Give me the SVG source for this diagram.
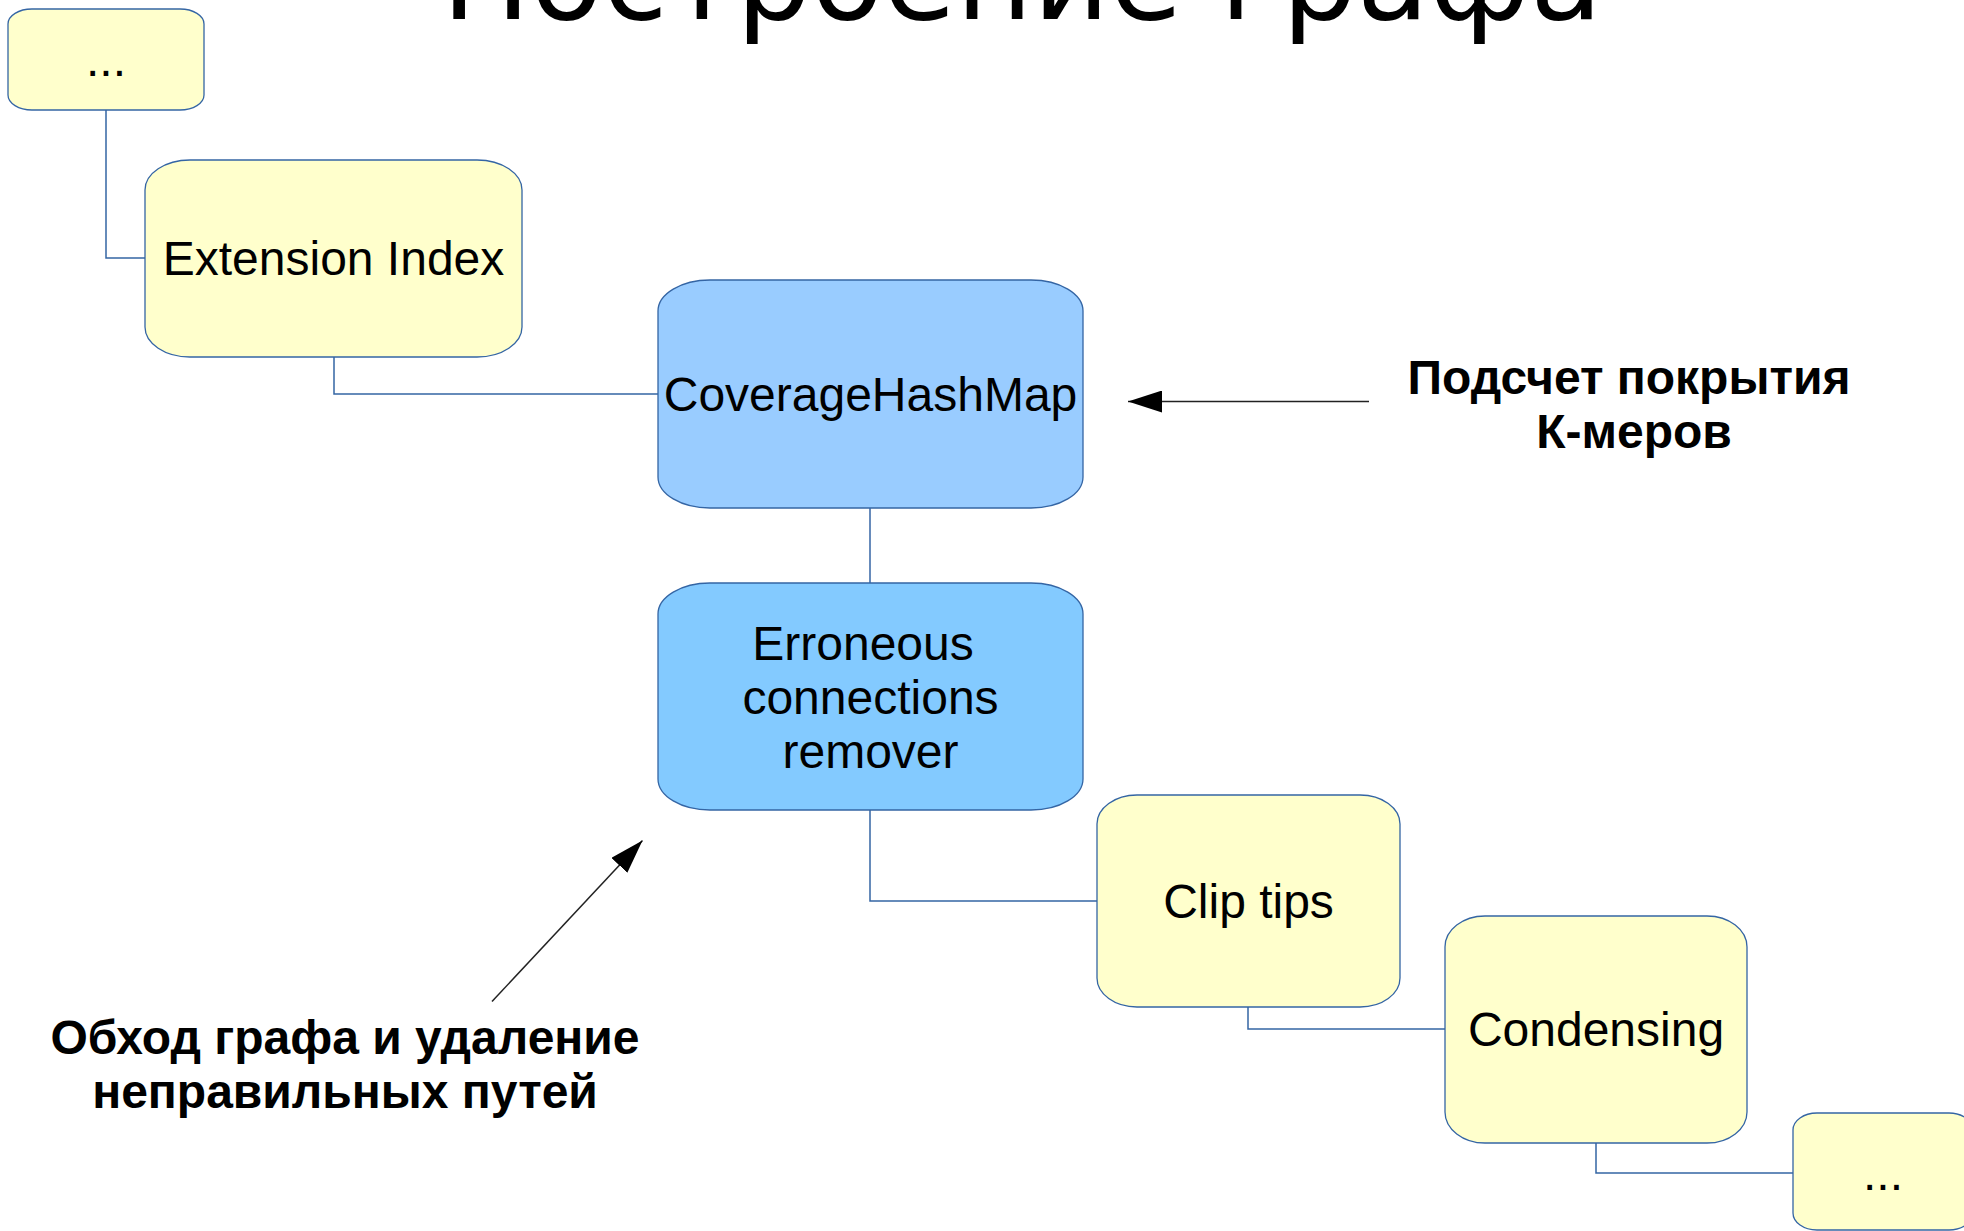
<svg xmlns="http://www.w3.org/2000/svg" width="1964" height="1231" viewBox="0 0 1964 1231">
  <defs>
    <style>
      .node-y { fill: #ffffcc; stroke: #3465a4; stroke-width: 1.3; }
      .node-b1 { fill: #99ccff; stroke: #3465a4; stroke-width: 1.3; }
      .node-b2 { fill: #83caff; stroke: #3465a4; stroke-width: 1.3; }
      .lbl { font-family: "Liberation Sans", Arial, sans-serif; font-size: 48px; fill: #000; text-anchor: middle; }
      .note { font-family: "Liberation Sans", Arial, sans-serif; font-size: 48px; font-weight: bold; fill: #000; text-anchor: middle; }
      .title { font-family: "DejaVu Sans", sans-serif; font-size: 118px; fill: #000; text-anchor: middle; }
      .conn { fill: none; stroke: #3465a4; stroke-width: 1.5; }
      .ptr { fill: none; stroke: #222; stroke-width: 1.5; }
    </style>
    <marker id="head" viewBox="0 0 34 22" refX="34" refY="11" markerWidth="34" markerHeight="22" markerUnits="userSpaceOnUse" orient="auto">
      <path d="M0,0 L34,11 L0,22 Z" fill="#000"/>
    </marker>
  </defs>

  <rect width="1964" height="1231" fill="#ffffff"/>

  <!-- slide title, partly above the top edge -->
  <text class="title" x="1022" y="19">Построение графа</text>

  <!-- pipeline connectors -->
  <g id="connectors">
    <path class="conn" d="M106,110 V258 H145"/>
    <path class="conn" d="M334,357 V394 H658"/>
    <path class="conn" d="M870,508 V583"/>
    <path class="conn" d="M870,810 V901 H1097"/>
    <path class="conn" d="M1248,1007 V1029 H1445"/>
    <path class="conn" d="M1596,1143 V1173 H1793"/>
  </g>

  <g id="node-dots-top">
    <rect class="node-y" x="8" y="9" width="196" height="101" rx="24" ry="15"/>
    <text class="lbl" x="106" y="76">...</text>
  </g>

  <g id="node-extension-index">
    <rect class="node-y" x="145" y="160" width="377" height="197" rx="45" ry="30"/>
    <text class="lbl" x="333.5" y="275">Extension Index</text>
  </g>

  <g id="node-coverage-hashmap">
    <rect class="node-b1" x="658" y="280" width="425" height="228" rx="52" ry="31"/>
    <text class="lbl" x="870.5" y="411">CoverageHashMap</text>
  </g>

  <g id="node-erroneous">
    <rect class="node-b2" x="658" y="583" width="425" height="227" rx="52" ry="31"/>
    <text class="lbl" x="863" y="660">Erroneous</text>
    <text class="lbl" x="870.5" y="714">connections</text>
    <text class="lbl" x="870.5" y="768">remover</text>
  </g>

  <g id="node-clip-tips">
    <rect class="node-y" x="1097" y="795" width="303" height="212" rx="40" ry="29"/>
    <text class="lbl" x="1248.5" y="918">Clip tips</text>
  </g>

  <g id="node-condensing">
    <rect class="node-y" x="1445" y="916" width="302" height="227" rx="40" ry="31"/>
    <text class="lbl" x="1596" y="1046">Condensing</text>
  </g>

  <g id="node-dots-bottom">
    <rect class="node-y" x="1793" y="1113" width="180" height="117" rx="24" ry="17"/>
    <text class="lbl" x="1883" y="1190">...</text>
  </g>

  <!-- annotations -->
  <g id="note-coverage">
    <path class="ptr" d="M1369,401.5 H1128" marker-end="url(#head)"/>
    <text class="note" x="1629" y="394">Подсчет покрытия</text>
    <text class="note" x="1634" y="448">К-меров</text>
  </g>

  <g id="note-traversal">
    <path class="ptr" d="M492,1001.5 L642.5,840.5" marker-end="url(#head)"/>
    <text class="note" x="345" y="1054">Обход графа и удаление</text>
    <text class="note" x="345" y="1108">неправильных путей</text>
  </g>
</svg>
